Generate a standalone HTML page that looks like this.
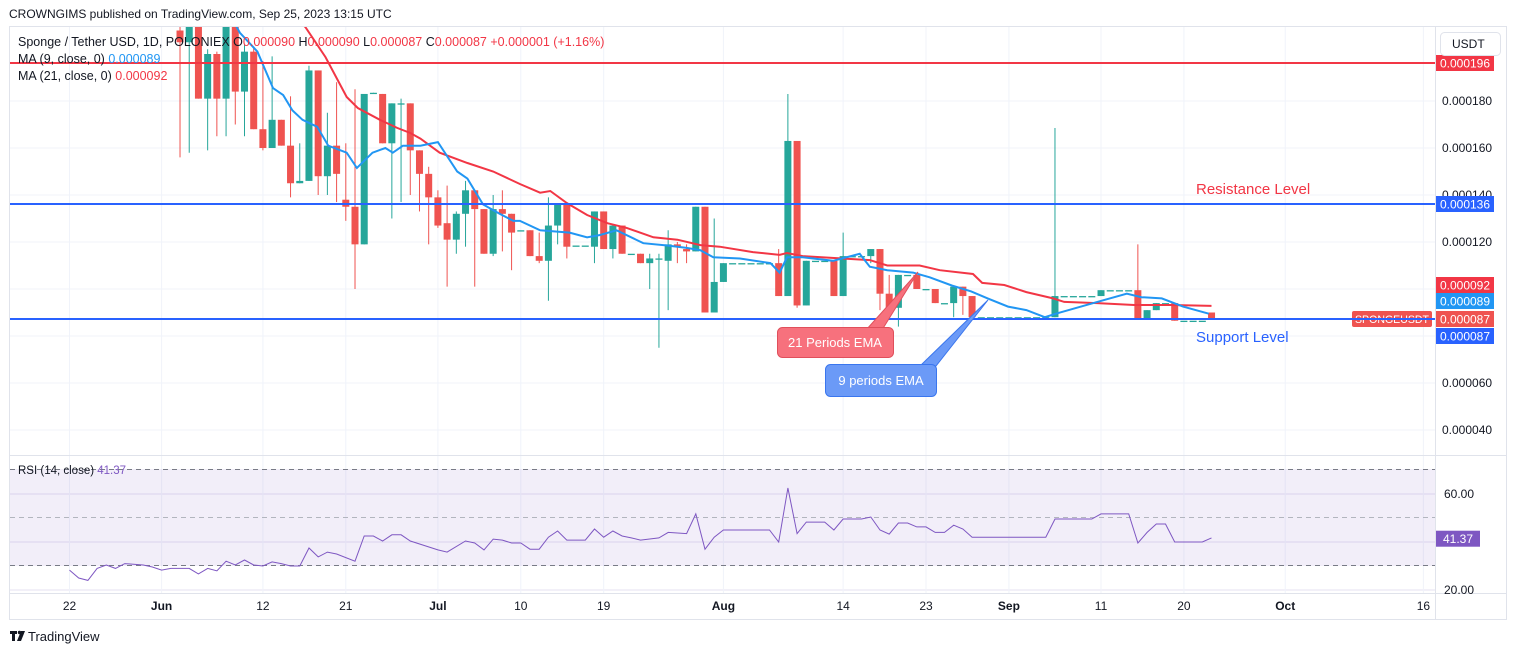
<!DOCTYPE html>
<html><head><meta charset="utf-8"><style>
html,body{margin:0;padding:0;background:#fff;}
svg{display:block;font-family:"Liberation Sans",sans-serif;}
</style></head><body>
<svg id="c" width="1515" height="655" viewBox="0 0 1515 655" xmlns="http://www.w3.org/2000/svg">
<defs><clipPath id="mainClip"><rect x="10" y="27" width="1425" height="428"/></clipPath>
<clipPath id="rsiClip"><rect x="10" y="456" width="1425" height="136"/></clipPath></defs>
<rect x="0" y="0" width="1515" height="655" fill="#fff"/>
<text x="9" y="18" font-size="12" fill="#131722">CROWNGIMS published on TradingView.com, Sep 25, 2023 13:15 UTC</text>
<rect x="9.5" y="26.5" width="1497" height="593" fill="none" stroke="#e0e3eb"/>
<g id="grid"></g>
<line x1="10" y1="455.5" x2="1506" y2="455.5" stroke="#e0e3eb"/>
<line x1="10" y1="593.5" x2="1506" y2="593.5" stroke="#e0e3eb"/>
<line x1="1435.5" y1="27" x2="1435.5" y2="620" stroke="#e0e3eb"/>
<rect x="10" y="469" width="1425" height="97" fill="#7e57c2" fill-opacity="0.1"/>
<line x1="10" y1="469.5" x2="1435" y2="469.5" stroke="#787b86" stroke-dasharray="5,4"/>
<line x1="10" y1="517.5" x2="1435" y2="517.5" stroke="#b2b5be" stroke-dasharray="5,4"/>
<line x1="10" y1="565.5" x2="1435" y2="565.5" stroke="#787b86" stroke-dasharray="5,4"/>
<g id="main" clip-path="url(#mainClip)"></g>
<g id="rsi" clip-path="url(#rsiClip)"></g>
<g id="axis"></g>
<g id="ann">
<line x1="10" y1="63" x2="1435" y2="63" stroke="#f23645" stroke-width="2"/>
<line x1="10" y1="204" x2="1435" y2="204" stroke="#2962ff" stroke-width="2"/>
<line x1="10" y1="319" x2="1435" y2="319" stroke="#2962ff" stroke-width="2"/>
<text x="1196" y="194" font-size="15" fill="#f23645">Resistance Level</text>
<text x="1196" y="342" font-size="15" fill="#2962ff">Support Level</text>
<polygon points="866,330 882,330 918,272" fill="#f7717d" stroke="#e04f5b"/>
<rect x="777.5" y="327.5" width="116" height="30" rx="5" fill="#f7717d" stroke="#e04f5b"/>
<text x="835" y="347" font-size="13" fill="#fff" text-anchor="middle">21 Periods EMA</text>
<polygon points="920,366 936,366 988,300" fill="#6b9af7" stroke="#3a76ee"/>
<rect x="825.5" y="364.5" width="111" height="32" rx="5" fill="#6b9af7" stroke="#3a76ee"/>
<text x="881" y="385" font-size="13" fill="#fff" text-anchor="middle">9 periods EMA</text>
</g>
<g id="legend" font-size="12.5">
<text x="18" y="46" fill="#131722">Sponge / Tether USD, 1D, POLONIEX  <tspan>O</tspan><tspan fill="#f23645">0.000090</tspan>  H<tspan fill="#f23645">0.000090</tspan>  L<tspan fill="#f23645">0.000087</tspan>  C<tspan fill="#f23645">0.000087</tspan>  <tspan fill="#f23645">+0.000001 (+1.16%)</tspan></text>
<text x="18" y="63" fill="#131722">MA (9, close, 0)  <tspan fill="#2196f3">0.000089</tspan></text>
<text x="18" y="80" fill="#131722">MA (21, close, 0)  <tspan fill="#f23645">0.000092</tspan></text>
<text x="18" y="474" fill="#131722" font-size="11.5">RSI (14, close)  <tspan fill="#7e57c2">41.37</tspan></text>
</g>
<rect x="1440.5" y="32.5" width="60" height="23" rx="4" fill="#fff" stroke="#e0e3eb"/>
<text x="1452" y="48" font-size="12" fill="#131722">USDT</text>
<g>
<rect x="10" y="631" width="7" height="3" fill="#131722"/><rect x="12" y="631" width="3" height="10" fill="#131722"/>
<circle cx="19.5" cy="632.5" r="1.7" fill="#131722"/><polygon points="21,631 25,631 21,641 17,641" fill="#131722"/>
<text x="28" y="641" font-size="13" fill="#131722">TradingView</text>
</g>
</svg>
<script>
// ---- candle data (day index from Jun 1) ----
const candleDays=[2,3,4,5,6,7,8,9,10,11,12,13,14,15,16,17,18,19,20,21,22,23,24,25,26,27,28,29,30,31,32,33,34,35,36,37,38,39,40,41,42,43,44,45,46,47,48,49,50,51,52,53,54,55,56,57,58,59,60,61,62,63,64,65,66,67,68,69,70,71,72,73,74,75,76,77,78,79,80,81,82,83,84,85,86,87,88,89,90,91,92,93,94,95,96,97,98,99,100,101,102,103,104,105,106,107,108,109,110,111,112,113,114];
const openV=[210,205,218,181,200,181,215,184,201,168,160,172,161,145,146,193,148,161,138,135,119,183,183,162,179,179,159,149,139,128,121,132,142,134,115,134,132,125,125,114,112,127,136,118.5,118.5,118,133,117,127,115,115,111,113,112,119,117,116,135,90,103,111,111,111,111,111,111,97,163,93,112,112,112,97,114,114,114,117,98,92,106,106,100,100,94,94,101,97,88,88,88,88,88,88,88,88,88,97,97,97,97,97,99.5,99.5,99.5,99.5,87.5,91,94,94,86.5,86.5,86.5,90];
const highV=[215,216,222,202,201,220,218,204,203,197,199,172,182,162,195,193,175,188,162,185,183,183.5,183,179,181,179,159,152,142,144,133,146,142,134,140,142,132,125,125,124,139,136,136,118.5,118.5,133,133,127,127,115,115,115,115,125,120,119,135,135,130,111,111,111,111,111,111,117,183,163,112,112,112,112,124,114,114,117,117,106,106,106,106,100,100,94,101,101,97,88,88,88,88,88,88,88,88,168.5,97,97,97,97,99.5,99.5,99.5,99.5,119,91,94,94,94,86.5,86.5,86.5,90];
const lowV=[156,158,181,159,165,165,170,165,168,159,160,161,139,145,146,140,140,137,129,100,119,183,162,130,137,140,133,119,126,101,115,118,101,115,114,116,108,125,114,111,95,119,113,118.5,118.5,111,117,113,115,115,111,100,75,91,111,111,116,90,90,103,111,111,111,111,111,97,97,92,93,112,112,97,97,114,114,111,91,92,84,106,100,100,94,94,88,89,88,88,88,88,88,88,88,88,88,88,97,97,97,97,97,99.5,99.5,99.5,87.5,87.5,91,94,86.5,86.5,86.5,86.5,87];
const closeV=[205,212,181,200,181,215,184,201,168,160,172,161,145,146,193,148,161,149,135,119,183,183.5,162,179,179,159,149,139,127,121,132,142,134,115,134,132,124,125,114,112,127,136,118,118.5,118.5,133,117,127,115,115,111,113,113,119,118,116,135,90,103,111,111,111,111,111,111,97,163,93,112,112,112,97,114,114,114,117,98,92,106,106,100,100,94,94,101,97,88,88,88,88,88,88,88,88,88,97,97,97,97,97,99.5,99.5,99.5,99.5,87.5,91,94,94,86.5,86.5,86.5,86.5,87];
// ---- moving averages (day, value) ----
const ma9Days=[7.5,8.5,10.4,12.1,13.2,14.2,15.3,16.9,18.1,20.1,21.2,22.9,24.3,25.1,26.2,28.1,30,32.1,33.2,34.9,36.7,38.2,38.9,41.1,44.3,46.2,47.6,49.4,52.3,54.9,57,58.5,59.9,62.8,66.1,67.1,67.9,69.6,72.9,75.8,76.9,78.8,81.6,83.4,85.8,87.9,89.7,91.9,93.9,95.9,97.1,101.6,104.8,106.4,108.6,110.9,113.7];
const ma9Vals=[216,209,201,185.5,182.5,176,172,169,161,158,151.5,158,160,158,161,161,162.5,150,147,136,132,129,129,125,124,122,123,125,119.5,118.5,117.5,116.5,113.5,113,111,107,113.5,113.5,112,115,109.5,108,107,105,101.5,99,96,92.5,91,88,89.5,94.5,98,96.5,96,92.5,89.5];
const ma21Days=[13.5,14.6,15.6,17.8,20.1,21.3,23.7,25.6,27,28.1,30.2,33.2,36,38.9,41.1,42.2,44,46.2,48.4,50.5,53.4,56,58.5,60.6,64.2,67.1,67.9,69.6,76.9,78.8,82.3,84.5,88.1,89.1,91.5,93.9,96.8,98,101.6,105.6,109.7,114];
const ma21Vals=[221,215,211.5,198.7,181.7,177,172,168.5,166.4,164,158,153.6,150,144.7,141,141.7,136.6,131.5,128,126,122,121,118.7,118,115.7,114.5,115.3,114,112.3,110,110,108,106.4,102.6,101.7,98.7,96,94.5,94,93.2,93.2,92.8];
// ---- RSI (day, value) ----
const rsiDays=[-10,-9,-8,-7,-6,-5,-4,-2,-1,0,1,3,4,5,6,7,8,9,10,11,12,13,14,15,16,17,18,19,21,22,23,24,25,26,27,30,31,33,34,35,36,37,38,39,40,41,42,43,44,46,47,48,49,50,51,52,54,55,57,58,59,60,61,66,67,68,69,70,72,73,74,76,77,78,79,80,81,82,83,84,85,86,87,88,96,97,101,102,105,106,107,108,109,110,113,114];
const rsiVals=[28.3,25,24,29,30.4,29,31,30.4,29.6,28.3,29,29,26.7,29,28,32,30.4,32.5,30.4,30,31.7,31,30,30,37.5,33.8,35.8,35,32,42.5,42.5,40.4,43,43,40.4,36.7,35.8,40.4,39.6,36.7,41.2,40.8,39.6,39.6,37,37,42,44.6,40.8,40.8,45.4,42,44.6,42.5,41.7,40.8,41.7,44,43.5,51.7,37,42,45,45,40,62.5,43.5,48.3,48.3,45,49.6,49.6,50.4,45,43.3,47.9,47.9,46.3,46.3,44,44,47,45.4,42,42,49.6,49.6,51.7,51.7,39.6,44,47.5,47.5,40,40,41.7];
// ---- axis ticks ----
const priceTicks=[180,160,140,120,100,80,60,40];
const priceTickLabels=["0.000180","0.000160","0.000140","0.000120","0.000100","0.000080","0.000060","0.000040"];
const dateTickDays=[-10,0,11,20,30,39,48,61,74,83,92,102,111,122,137];
const dateTickLabels=["22","Jun","12","21","Jul","10","19","Aug","14","23","Sep","11","20","Oct","16"];
const rsiTicks=[60,40,20];
const rsiTickLabels=["60.00","","20.00"];

const NS="http://www.w3.org/2000/svg";
function X(d){return 161.6+d*9.21;}
function Y(p){return 101+(180-p)*2.35;}
function R(v){return 518-(v-50)*2.4;}
function mk(tag,attrs,parent){const e=document.createElementNS(NS,tag);for(const k in attrs)e.setAttribute(k,attrs[k]);parent.appendChild(e);return e;}
const grid=document.getElementById('grid'),main=document.getElementById('main'),rsiG=document.getElementById('rsi'),axis=document.getElementById('axis');

priceTicks.forEach((p,i)=>{
  const l=mk('line',{x1:10,x2:1435,y1:Y(p),y2:Y(p),stroke:'#f0f3fa'},grid);
  
  
  const t=mk('text',{x:1442,y:Y(p)+4,'font-size':12,fill:'#131722'},axis);
  
  
  t.textContent=priceTickLabels[i];
});
rsiTicks.forEach((v,i)=>{
  const l=mk('line',{x1:10,x2:1435,y1:R(v),y2:R(v),stroke:'#e6e1f2'},grid);
  
  
  if(rsiTickLabels[i]){
  const t=mk('text',{x:1444,y:R(v)+4,'font-size':12,fill:'#131722'},axis);
  
  
  t.textContent=rsiTickLabels[i];}
});
dateTickDays.forEach((d,i)=>{
  const x=X(d);
  const l=mk('line',{x1:x,x2:x,y1:27,y2:593,stroke:'#f0f3fa'},grid);
  
  
  const bold=isNaN(+dateTickLabels[i]);
  const t=mk('text',{x:x,y:610,'font-size':12,fill:'#131722','text-anchor':'middle','font-weight':bold?'bold':'normal'},axis);
  
  
  t.textContent=dateTickLabels[i];
});

// candles
candleDays.forEach((d,i)=>{
  const o=openV[i],c=closeV[i],h=highV[i],lo=lowV[i];
  const up=c>=o, col=up?'#26a69a':'#ef5350', x=X(d);
  const w=mk('line',{x1:x,x2:x,y1:Y(h),y2:Y(lo),stroke:col,'stroke-width':1},main);
  
  
  const top=Y(Math.max(o,c)),bh=Math.max(1.3,Y(Math.min(o,c))-top);
  const b=mk('rect',{x:x-3.5,y:top,width:7,height:bh,fill:col},main);
  
  
});
function path(days,vals,xf,yf){return days.map((d,i)=>(i?'L':'M')+xf(d).toFixed(1)+','+yf(vals[i]).toFixed(1)).join(' ');}
const m21=mk('path',{d:path(ma21Days,ma21Vals,X,Y),fill:'none',stroke:'#f23645','stroke-width':2},main);


const m9=mk('path',{d:path(ma9Days,ma9Vals,X,Y),fill:'none',stroke:'#2196f3','stroke-width':2},main);


const rl=mk('path',{d:path(rsiDays,rsiVals,X,R),fill:'none',stroke:'#7e57c2','stroke-width':1},rsiG);



// price tags
const tags=[[63,'#f23645','0.000196'],[204,'#2962ff','0.000136'],[285,'#f23645','0.000092'],[301,'#2196f3','0.000089'],[319,'#ef5350','0.000087'],[336,'#2962ff','0.000087']];
tags.forEach(t=>{
  const r=mk('rect',{x:1436,y:t[0]-8,width:58,height:16,fill:t[1]},axis);
  
  
  const tx=mk('text',{x:1465,y:t[0]+4.5,'font-size':12,fill:'#fff','text-anchor':'middle'},axis);
  
  
  tx.textContent=t[2];
});
const sr=mk('rect',{x:1352,y:311,width:80,height:16,rx:2,fill:'#ef5350'},axis);


const st=mk('text',{x:1355,y:323,'font-size':11,fill:'#fff',textLength:74,lengthAdjust:'spacingAndGlyphs'},axis);


st.textContent='SPONGEUSDT';
const rr=mk('rect',{x:1436,y:R(41.37)-8,width:44,height:16,fill:'#7e57c2'},axis);


const rt=mk('text',{x:1458,y:R(41.37)+4.5,'font-size':12,fill:'#fff','text-anchor':'middle'},axis);


rt.textContent='41.37';
</script>
</body></html>
